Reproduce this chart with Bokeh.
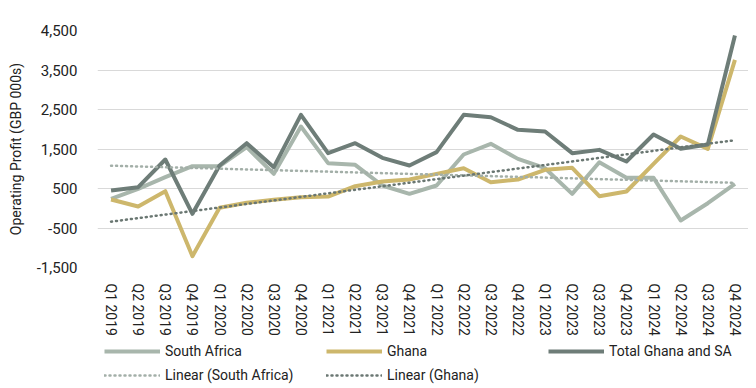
import numpy as np
from bokeh.plotting import figure
from bokeh.layouts import column
from bokeh.models import (FactorRange, Range1d, FixedTicker, NumeralTickFormatter,
                          Legend, LegendItem)
from bokeh.embed import file_html
from bokeh.resources import INLINE

quarters = ["Q1 2019", "Q2 2019", "Q3 2019", "Q4 2019",
            "Q1 2020", "Q2 2020", "Q3 2020", "Q4 2020",
            "Q1 2021", "Q2 2021", "Q3 2021", "Q4 2021",
            "Q1 2022", "Q2 2022", "Q3 2022", "Q4 2022",
            "Q1 2023", "Q2 2023", "Q3 2023", "Q4 2023",
            "Q1 2024", "Q2 2024", "Q3 2024", "Q4 2024"]

south_africa = [240, 492, 787, 1065, 1065, 1546, 872, 2070, 1141, 1100, 576, 365,
                576, 1361, 1630, 1250, 1014, 365, 1166, 770, 770, -310, 128, 618]
ghana = [221, 44, 432, -1213, 11, 137, 213, 280, 297, 559, 677, 728,
         871, 1014, 660, 728, 972, 1023, 306, 424, 1124, 1816, 1504, 3757]
total = [449, 533, 1234, -141, 1082, 1647, 1040, 2365, 1394, 1647, 1277, 1082,
         1420, 2365, 2305, 1985, 1943, 1394, 1478, 1183, 1867, 1504, 1614, 4373]

y_ticks = [-1500, -500, 500, 1500, 2500, 3500, 4500]

# Excel-style linear trendlines (least squares over the quarter index)
idx = np.arange(len(quarters))
sa_fit = np.polyval(np.polyfit(idx, south_africa, 1), idx)
gh_fit = np.polyval(np.polyfit(idx, ghana, 1), idx)

C_SA = "#A8B6AC"
C_GH = "#CDB76C"
C_TOT = "#6E7D78"
C_SA_T = "#A3AFA8"
C_GH_T = "#6A7772"
FONT = "Roboto"

styles = {
    "South Africa": dict(line_color=C_SA, line_width=4),
    "Ghana": dict(line_color=C_GH, line_width=4),
    "Total Ghana and SA": dict(line_color=C_TOT, line_width=4),
    "Linear (South Africa)": dict(line_color=C_SA_T, line_width=2.5, line_dash="1 4", line_cap="round"),
    "Linear (Ghana)": dict(line_color=C_GH_T, line_width=2.5, line_dash="1 4", line_cap="round"),
}

p = figure(width=748, height=340,
           x_range=FactorRange(*quarters, range_padding=0),
           y_range=Range1d(-1500, 4500), output_backend="svg", toolbar_location=None,
           min_border_top=30, min_border_left=97, min_border_right=0, min_border_bottom=73)
p.outline_line_color = None
p.background_fill_color = "white"
p.border_fill_color = "white"

p.line(quarters, south_africa, line_join="round", **styles["South Africa"])
p.line(quarters, ghana, line_join="round", **styles["Ghana"])
p.line(quarters, total, line_join="round", **styles["Total Ghana and SA"])
p.line(quarters, list(sa_fit), **styles["Linear (South Africa)"])
p.line(quarters, list(gh_fit), **styles["Linear (Ghana)"])

p.xgrid.grid_line_color = None
p.ygrid.grid_line_color = "#D9D9D9"
p.ygrid.grid_line_width = 1

p.yaxis.ticker = FixedTicker(ticks=y_ticks)
p.yaxis.formatter = NumeralTickFormatter(format="0,0")
p.yaxis.axis_label = "Operating Profit (GBP 000s)"
p.yaxis.axis_label_text_font = FONT
p.yaxis.axis_label_text_font_style = "normal"
p.yaxis.axis_label_text_font_size = "14px"
p.yaxis.axis_label_text_color = "#222222"
p.yaxis.axis_label_standoff = 10
p.yaxis.major_label_text_font = FONT
p.yaxis.major_label_text_font_size = "15px"
p.yaxis.major_label_text_color = "#222222"
p.yaxis.major_label_standoff = 14

p.xaxis.major_label_orientation = "vertical"
p.xaxis.major_label_text_font = FONT
p.xaxis.major_label_text_font_size = "14px"
p.xaxis.major_label_text_color = "#222222"
p.xaxis.major_label_standoff = 10

for ax in (p.xaxis, p.yaxis):
    ax.axis_line_color = None
    ax.major_tick_line_color = None
    ax.minor_tick_line_color = None

# legend strip below the chart (its frame is aligned with the chart's frame)
lf = figure(width=748, height=48, x_axis_type=None, y_axis_type=None,
            x_range=Range1d(0, 1), y_range=Range1d(0, 1), output_backend="svg",
            toolbar_location=None, min_border=0)
lf.outline_line_color = None
lf.xgrid.visible = False
lf.ygrid.visible = False
# legend proxies: styled lines with no visible data point
lr = {name: lf.line([float("nan")], [float("nan")], **st) for name, st in styles.items()}

leg_kw = dict(orientation="horizontal", glyph_width=56, glyph_height=16, label_height=16,
              label_standoff=5, label_width=161, spacing=0, padding=0, margin=0,
              border_line_color=None, background_fill_alpha=0,
              label_text_font=FONT, label_text_font_size="14px", label_text_color="#222222")

leg1 = Legend(items=[LegendItem(label=n, renderers=[lr[n]])
                     for n in ["South Africa", "Ghana", "Total Ghana and SA"]],
              location=(7, 29), **leg_kw)
leg2 = Legend(items=[LegendItem(label=n, renderers=[lr[n]])
                     for n in ["Linear (South Africa)", "Linear (Ghana)"]],
              location=(7, 5), **leg_kw)
lf.add_layout(leg1, "center")
lf.add_layout(leg2, "center")

layout = column(p, lf, spacing=0)
open("out.html", "w").write(file_html(layout, INLINE))
